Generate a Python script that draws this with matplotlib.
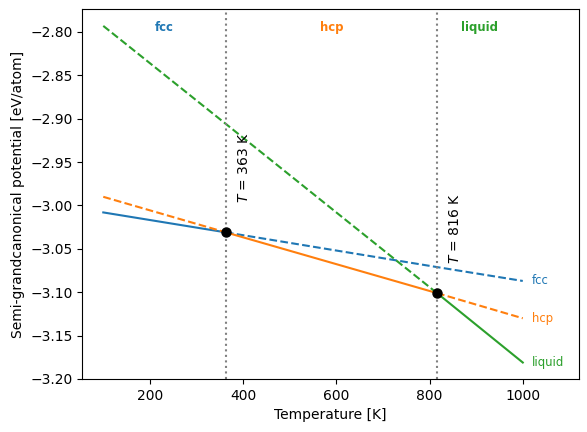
import numpy as np
import matplotlib
matplotlib.use("Agg")
import matplotlib.pyplot as plt

# temperatures at the ends of the range and at the two transitions
temps = np.array([100, 363, 816, 1000])
transitions = [363, 816]

# semi-grandcanonical potential of each phase at these temperatures [eV/atom]
mu_fcc = np.array([-3.008, -3.031, -3.071, -3.087])
mu_hcp = np.array([-2.990, -3.031, -3.101, -3.130])
mu_liquid = np.array([-2.793, -2.906, -3.101, -3.181])

phases = ["fcc", "hcp", "liquid"]
colors = ["C0", "C1", "C2"]
# index ranges (in temps) where each phase is stable
stable = [(0, 1), (1, 2), (2, 3)]

fig = plt.figure(figsize=(5.87, 4.32), dpi=100)
ax = fig.add_axes([0.1402, 0.1227, 0.8457, 0.8565])

for mu, name, c, (i0, i1) in zip([mu_fcc, mu_hcp, mu_liquid], phases, colors, stable):
    # dashed where metastable, solid where stable
    if i0 > 0:
        ax.plot(temps[:i0 + 1], mu[:i0 + 1], "--", color=c)
    ax.plot(temps[i0:i1 + 1], mu[i0:i1 + 1], "-", color=c)
    if i1 < len(temps) - 1:
        ax.plot(temps[i1:], mu[i1:], "--", color=c)
    ax.text(temps[-1] + 20, mu[-1], name, color=c, ha="left", va="center",
            fontsize="small")

# transition lines, markers and labels
trans_mu = [mu_fcc[1], mu_hcp[2]]
for T, m in zip(transitions, trans_mu):
    ax.axvline(T, color="grey", linestyle=":")
    ax.plot(T, m, "o", color="black", markersize=6.5)
    ax.text(T + 38, m + 0.034, f"$T$ = {T} K", rotation=90,
            ha="center", va="bottom")

# phase names above the plot, centred in each stability region
bounds = [temps[0]] + transitions + [temps[-1]]
for k, (name, c) in enumerate(zip(phases, colors)):
    xm = 0.5 * (bounds[k] + bounds[k + 1])
    ax.text(xm, 0.95, name, color=c, fontweight="bold", fontsize="small",
            ha="center", va="center", transform=ax.get_xaxis_transform())

ax.set_xlim(55, 1120)
ax.set_ylim(-3.2, -2.7735)
ax.set_xlabel("Temperature [K]")
ax.set_ylabel("Semi-grandcanonical potential [eV/atom]")

fig.savefig("out.png", dpi=100)
